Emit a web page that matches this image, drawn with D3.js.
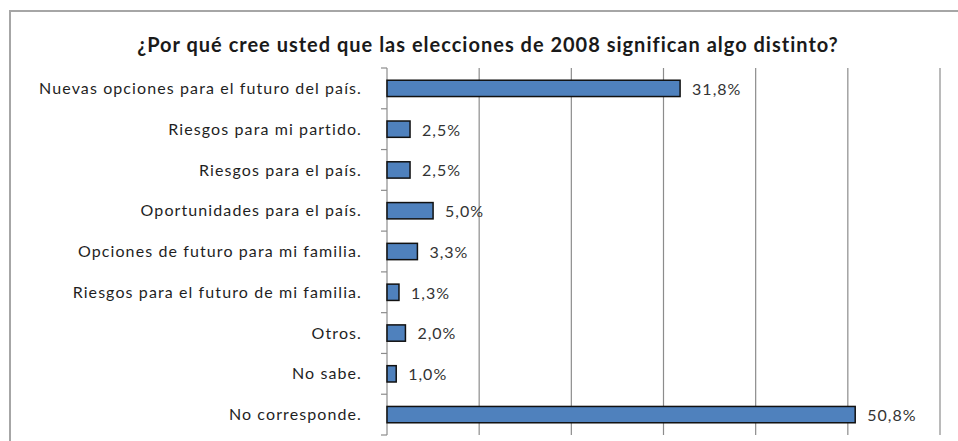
<!DOCTYPE html>
<html>
<head>
<meta charset="utf-8">
<script src="https://cdn.jsdelivr.net/npm/d3@7"></script>
<style>
  body { margin: 0; background: #fff; }
  svg { display: block; font-family: Lato, "Open Sans", sans-serif; }
</style>
</head>
<body>
<svg id="chart" width="958" height="441"></svg>
<script>
var title = "¿Por qué cree usted que las elecciones de 2008 significan algo distinto?";
var categories = [
  "Nuevas opciones para el futuro del país.",
  "Riesgos para mi partido.",
  "Riesgos para el país.",
  "Oportunidades para el país.",
  "Opciones de futuro para mi familia.",
  "Riesgos para el futuro de mi familia.",
  "Otros.",
  "No sabe.",
  "No corresponde."
];
var values = [31.8, 2.5, 2.5, 5.0, 3.3, 1.3, 2.0, 1.0, 50.8];
var gridTicks = [10, 20, 30, 40, 50, 60];

var svg = d3.select("#chart");

// chart frame (clipped on right and bottom like the source)
svg.append("path")
  .attr("d", "M10,441 V11 H958")
  .attr("fill", "none")
  .attr("stroke", "#a6a6a6")
  .attr("stroke-width", 2);

svg.append("text")
  .attr("x", 488).attr("y", 52)
  .attr("text-anchor", "middle")
  .attr("font-size", 20)
  .attr("font-weight", "bold")
  .attr("letter-spacing", 1)
  .attr("fill", "#1a1a1a")
  .text(title);

var x = d3.scaleLinear().domain([0, 60]).range([387, 940]);
var y = d3.scaleBand().domain(categories).range([68, 435]).paddingInner(0.6).paddingOuter(0.3);

// vertical gridlines
svg.append("g").selectAll("line")
  .data(gridTicks)
  .join("line")
  .attr("x1", d => x(d)).attr("x2", d => x(d))
  .attr("y1", 68).attr("y2", 435)
  .attr("stroke", "#8c8c8c")
  .attr("stroke-width", 1.2);

// category axis with ticks between bands
var bounds = d3.range(categories.length + 1).map(i => 68 + i * (367 / categories.length));
var axis = svg.append("g");
axis.append("line")
  .attr("x1", x(0)).attr("x2", x(0))
  .attr("y1", 68).attr("y2", 435)
  .attr("stroke", "#8c8c8c").attr("stroke-width", 1.2);
axis.selectAll(".tk")
  .data(bounds)
  .join("line")
  .attr("class", "tk")
  .attr("x1", x(0) - 6).attr("x2", x(0))
  .attr("y1", d => d).attr("y2", d => d)
  .attr("stroke", "#8c8c8c").attr("stroke-width", 1.2);

var bandC = d => y(d) + y.bandwidth() / 2;

axis.selectAll(".cat")
  .data(categories)
  .join("text")
  .attr("class", "cat")
  .attr("x", 362)
  .attr("y", d => bandC(d))
  .attr("dy", "0.35em")
  .attr("text-anchor", "end")
  .attr("font-size", 16)
  .attr("letter-spacing", 1.1)
  .attr("fill", "#1f1f1f")
  .text(d => d);

// bars
svg.append("g").selectAll("rect")
  .data(values)
  .join("rect")
  .attr("x", x(0))
  .attr("y", (d, i) => y(categories[i]))
  .attr("width", d => x(d) - x(0))
  .attr("height", y.bandwidth())
  .attr("fill", "#4f81bd")
  .attr("stroke", "#111")
  .attr("stroke-width", 1.5);

// value labels
svg.append("g").selectAll("text")
  .data(values)
  .join("text")
  .attr("x", d => x(d) + 12)
  .attr("y", (d, i) => bandC(categories[i]))
  .attr("dy", "0.4em")
  .attr("font-size", 16)
  .attr("letter-spacing", 1)
  .attr("fill", "#333")
  .text(d => d3.format(".1f")(d).replace(".", ",") + "%");
</script>
</body>
</html>
